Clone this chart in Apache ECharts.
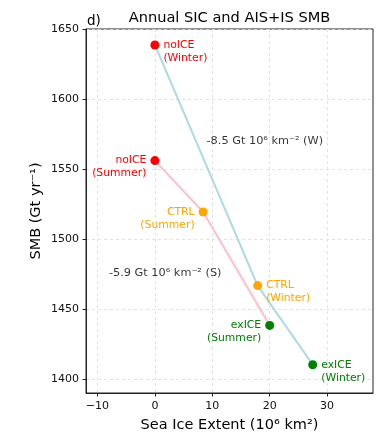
<!DOCTYPE html>
<html>
<head>
<meta charset="utf-8">
<script src="https://cdn.jsdelivr.net/npm/echarts@6/dist/echarts.min.js"></script>
<style>html,body{margin:0;padding:0;background:#fff}#c{width:386px;height:432px}</style>
</head>
<body>
<div id="c"></div>
<script>
// ---- data ----
const experiments = ['noICE', 'CTRL', 'exICE'];
const expColors = ['#ff0000', '#ffa500', '#008000'];
const winterSIE = [0, 17.9, 27.5];
const winterSMB = [1638.6, 1466.7, 1410.2];
const summerSIE = [0, 8.4, 20.0];
const summerSMB = [1556.0, 1519.3, 1438.3];
const slopeTexts = ['-8.5 Gt 10⁶ km⁻² (W)', '-5.9 Gt 10⁶ km⁻² (S)'];
const slopeX = [9.0, -8.0];
const slopeY = [1570.2, 1475.7];
const xTicks = [-10, 0, 10, 20, 30];
const yTicks = [1400, 1450, 1500, 1550, 1600, 1650];

const FONT = 'DejaVu Sans';
const chart = echarts.init(document.getElementById('c'), null, {renderer: 'canvas', width: 386, height: 432});

function pointItems(xs, ys, season, side) {
  return xs.map((x, i) => ({
    value: [x, ys[i]],
    itemStyle: {color: expColors[i], opacity: 1},
    label: {
      show: true,
      formatter: experiments[i] + '\n(' + season + ')',
      position: side,
      distance: 4,
      offset: [0, 6.5],
      color: expColors[i],
      fontFamily: FONT,
      fontSize: 10.8,
      lineHeight: 13,
      align: side === 'left' ? 'right' : 'left'
    }
  }));
}

const option = {
  animation: false,
  backgroundColor: '#fff',
  title: [
    {text: 'Annual SIC and AIS+IS SMB', left: 229.5, top: 11, textAlign: 'center', padding: 0,
     textStyle: {fontFamily: FONT, fontSize: 14.6, fontWeight: 'normal', color: '#000'}},
    {text: 'd)', left: 87, top: 14, padding: 0,
     textStyle: {fontFamily: FONT, fontSize: 13.5, fontWeight: 'normal', color: '#000'}}
  ],
  grid: {left: 86, right: 13, top: 29, bottom: 39, show: true, borderColor: '#222', borderWidth: 1,
         backgroundColor: 'transparent', containLabel: false, outerBoundsMode: 'none'},
  xAxis: {
    type: 'value', min: -12, max: 38,
    name: 'Sea Ice Extent (10⁶ km²)', nameLocation: 'middle', nameGap: 25, nameMoveOverlap: false,
    nameTextStyle: {fontFamily: FONT, fontSize: 14.5, color: '#000'},
    axisLine: {show: true, onZero: false, lineStyle: {color: '#222', width: 1}},
    axisTick: {show: true, length: 3.5, lineStyle: {color: '#222'}, customValues: xTicks},
    axisLabel: {fontFamily: FONT, fontSize: 11, color: '#111', margin: 8, customValues: xTicks,
      formatter: v => String(v).replace('-', '\u2212')},
    splitLine: {show: true, lineStyle: {color: '#dcdcdc', type: [3, 3], width: 0.8}}
  },
  yAxis: {
    type: 'value', min: 1390, max: 1650,
    name: 'SMB (Gt yr⁻¹)', nameLocation: 'middle', nameGap: 42, nameMoveOverlap: false,
    nameTextStyle: {fontFamily: FONT, fontSize: 14.5, color: '#000'},
    axisLine: {show: true, onZero: false, lineStyle: {color: '#222', width: 1}},
    axisTick: {show: true, length: 3.5, lineStyle: {color: '#222'}, customValues: yTicks},
    axisLabel: {fontFamily: FONT, fontSize: 11, color: '#111', margin: 7, customValues: yTicks,
      formatter: v => String(v)},
    splitLine: {show: true, lineStyle: {color: '#dcdcdc', type: [3, 3], width: 0.8}}
  },
  series: [
    {type: 'line', data: winterSIE.map((x, i) => [x, winterSMB[i]]), showSymbol: false, symbol: 'none',
     lineStyle: {color: '#add8e6', width: 2}, z: 2},
    {type: 'line', data: summerSIE.map((x, i) => [x, summerSMB[i]]), showSymbol: false, symbol: 'none',
     lineStyle: {color: '#ffc0cb', width: 2}, z: 2},
    {type: 'scatter', symbolSize: 9, data: pointItems(winterSIE, winterSMB, 'Winter', 'right'), z: 3},
    {type: 'scatter', symbolSize: 9, data: pointItems(summerSIE, summerSMB, 'Summer', 'left'), z: 3},
    {type: 'scatter', symbolSize: 0, silent: true, z: 4,
     data: slopeTexts.map((t, i) => ({value: [slopeX[i], slopeY[i]], label: {
       show: true, formatter: t, position: [0, 0], align: 'left', verticalAlign: 'middle',
       color: '#000', fontFamily: FONT, fontSize: 11.3}}))}
  ]
};
chart.setOption(option);
</script>
</body>
</html>
